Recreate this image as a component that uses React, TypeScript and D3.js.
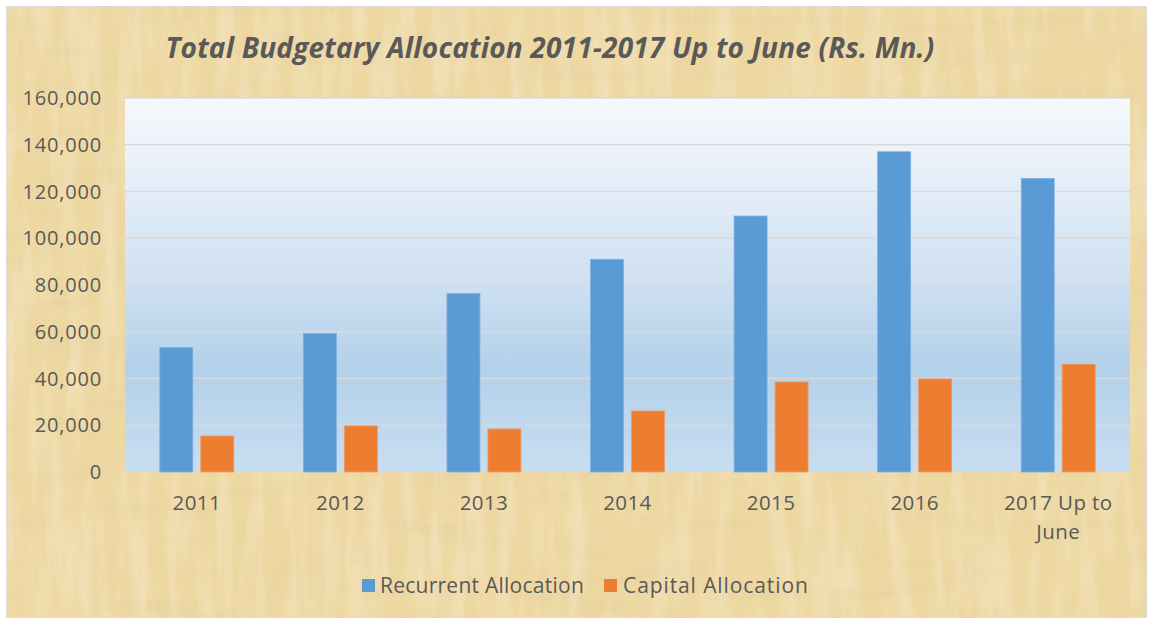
import React from "react";
import * as d3 from "d3";

const categories = ["2011", "2012", "2013", "2014", "2015", "2016", "2017 Up to June"];
const categoryLines = [["2011"], ["2012"], ["2013"], ["2014"], ["2015"], ["2016"], ["2017 Up to", "June"]];
const seriesNames = ["Recurrent Allocation", "Capital Allocation"];
const recurrent = [53200, 59300, 76400, 91000, 109500, 137000, 125600];
const capital = [15400, 19700, 18400, 26100, 38500, 39800, 46100];
const yTicks = [0, 20000, 40000, 60000, 80000, 100000, 120000, 140000, 160000];
const colors = ["#5b9bd5", "#ed7d31"];

const W = 1150;
const H = 621;
const plot = { left: 125, right: 1130, top: 98, bottom: 472 };
const FONT = "'Open Sans', Lato, sans-serif";
const TXT = "#595959";

export default function App() {
  const x0 = d3.scaleBand<string>().domain(categories).range([plot.left, plot.right]).padding(0);
  const x1 = d3
    .scaleBand<string>()
    .domain(seriesNames)
    .range([0, x0.bandwidth()])
    .paddingInner(0.195)
    .paddingOuter(0.849);
  const y = d3.scaleLinear().domain([0, 160000]).range([plot.bottom, plot.top]);
  const fmt = d3.format(",");
  const series = [recurrent, capital];

  return (
    <svg
      width={W}
      height={H}
      style={{ position: "absolute", left: 0, top: 0, display: "block" }}
      xmlns="http://www.w3.org/2000/svg"
    >
      <defs>
        <linearGradient id="plotGrad" x1="0" y1="0" x2="0" y2="1">
          <stop offset="0%" stopColor="#f6f9fd" />
          <stop offset="45%" stopColor="#d3e3f3" />
          <stop offset="72%" stopColor="#b3d1ea" />
          <stop offset="100%" stopColor="#c8ddf1" />
        </linearGradient>
        <filter id="papyrus" x="0" y="0" width="100%" height="100%">
          <feTurbulence type="fractalNoise" baseFrequency="0.008 0.06" numOctaves="3" seed="7" result="n1" />
          <feColorMatrix
            in="n1"
            type="matrix"
            values="0 0 0 0 0.72  0 0 0 0 0.58  0 0 0 0 0.32  0 0 0 0.7 -0.3"
            result="c1"
          />
          <feTurbulence type="fractalNoise" baseFrequency="0.06 0.008" numOctaves="3" seed="3" result="n2" />
          <feColorMatrix
            in="n2"
            type="matrix"
            values="0 0 0 0 0.99  0 0 0 0 0.92  0 0 0 0 0.76  0 0 0 0.7 -0.3"
            result="c2"
          />
          <feMerge>
            <feMergeNode in="SourceGraphic" />
            <feMergeNode in="c1" />
            <feMergeNode in="c2" />
          </feMerge>
        </filter>
      </defs>
      <rect x={0} y={0} width={W} height={H} fill="#ffffff" />
      <rect x={6.5} y={6.5} width={1140} height={611} fill="#eed8a2" stroke="#d9d9d9" strokeWidth={1} filter="url(#papyrus)" />

      <text
        x={550}
        y={58}
        textAnchor="middle"
        fontFamily={FONT}
        fontSize={28}
        fontWeight="bold"
        fontStyle="italic"
        letterSpacing={0.2}
        fill={TXT}
      >
        Total Budgetary Allocation 2011-2017 Up to June (Rs. Mn.)
      </text>

      <rect
        x={plot.left}
        y={plot.top}
        width={plot.right - plot.left}
        height={plot.bottom - plot.top}
        fill="url(#plotGrad)"
      />

      {yTicks.map((t) => (
        <g key={t}>
          {t > 0 && (
            <line x1={plot.left} x2={plot.right} y1={y(t)} y2={y(t)} stroke="#d9d9d9" strokeWidth={1.5} />
          )}
          <text
            x={102}
            y={y(t)}
            dy="0.35em"
            textAnchor="end"
            fontFamily={FONT}
            fontSize={20}
            letterSpacing={0.8}
            fill={TXT}
          >
            {fmt(t)}
          </text>
        </g>
      ))}

      {categories.map((c, i) => (
        <g key={c}>
          {series.map((s, k) => (
            <rect
              key={k}
              x={(x0(c) as number) + (x1(seriesNames[k]) as number)}
              y={y(s[i])}
              width={x1.bandwidth()}
              height={y(0) - y(s[i])}
              fill={colors[k]}
              stroke={k === 0 ? "#7fb0e0" : "#f09a60"}
              strokeWidth={0.8}
            />
          ))}
          <text
            x={(x0(c) as number) + x0.bandwidth() / 2}
            y={510}
            textAnchor="middle"
            fontFamily={FONT}
            fontSize={20.5}
            letterSpacing={0.4}
            fill={TXT}
          >
            {categoryLines[i].map((ln, j) => (
              <tspan key={j} x={(x0(c) as number) + x0.bandwidth() / 2} dy={j === 0 ? 0 : 29}>
                {ln}
              </tspan>
            ))}
          </text>
        </g>
      ))}

      <g fontFamily={FONT} fontSize={21} fill={TXT}>
        <rect x={362} y={579} width={13} height={13} fill={colors[0]} />
        <text x={380} y={593} letterSpacing={0.25}>{seriesNames[0]}</text>
        <rect x={604} y={579} width={13} height={13} fill={colors[1]} />
        <text x={623} y={593} letterSpacing={0.9}>{seriesNames[1]}</text>
      </g>
    </svg>
  );
}
